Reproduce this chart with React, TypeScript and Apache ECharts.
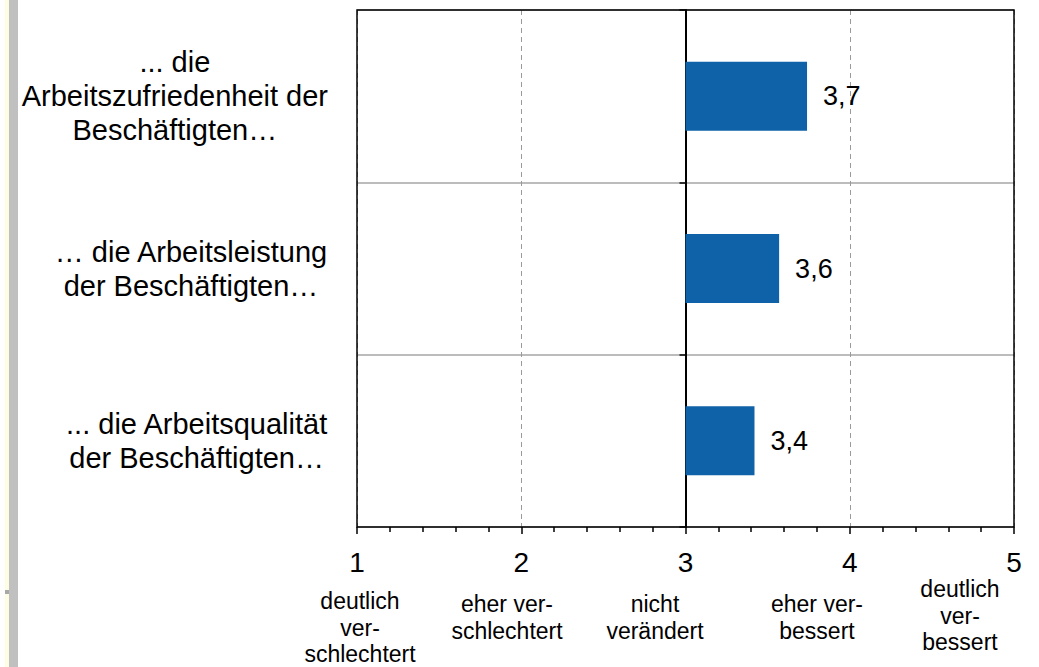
import React, { useEffect, useRef } from "react";
import * as echarts from "echarts";

// ---- data ----
const CATEGORIES = [
  "... die\nArbeitszufriedenheit der\nBeschäftigten…",
  "… die Arbeitsleistung\nder Beschäftigten…",
  "... die Arbeitsqualität\nder Beschäftigten…",
];
const VALUES = [3.74, 3.57, 3.42];
const SCALE_MIN = 1;
const SCALE_MAX = 5;
const NEUTRAL = 3;
const SCALE_LABELS = [
  "deutlich\nver-\nschlechtert",
  "eher ver-\nschlechtert",
  "nicht\nverändert",
  "eher ver-\nbessert",
  "deutlich\nver-\nbessert",
];

// ---- layout (styling only) ----
const SCALE_LABEL_POS: [number, number][] = [
  [360, 588],
  [507, 591],
  [655, 591],
  [817, 591],
  [960, 576],
];

const FONT = 'Arial, "Liberation Sans", sans-serif';

export default function App() {
  const ref = useRef<HTMLDivElement>(null);
  useEffect(() => {
    if (!ref.current) return;
    const chart = echarts.init(ref.current, null, { renderer: "svg" });
    const shifted = VALUES.map((v) => +(v - NEUTRAL).toFixed(4));
    chart.setOption({
      animation: false,
      backgroundColor: "#ffffff",
      textStyle: { fontFamily: FONT },
      grid: {
        left: 357,
        top: 10,
        right: 25,
        bottom: 140,
        show: true,
        borderColor: "#000",
        borderWidth: 1.5,
        z: 5,
      },
      xAxis: {
        type: "value",
        min: SCALE_MIN - NEUTRAL,
        max: SCALE_MAX - NEUTRAL,
        interval: 1,
        axisLine: { onZero: false, lineStyle: { color: "#000", width: 2 } },
        axisTick: { show: true, length: 7, lineStyle: { color: "#000", width: 1.5 } },
        minorTick: { show: true, splitNumber: 5, length: 5, lineStyle: { color: "#000", width: 1.5 } },
        axisLabel: {
          margin: 21,
          fontSize: 28,
          color: "#000",
          fontFamily: FONT,
          formatter: (v: number) => String(Math.round(v + NEUTRAL)),
        },
        splitLine: { show: true, lineStyle: { color: "#9a9a9a", type: [5, 4], width: 1 } },
        minorSplitLine: { show: false },
      },
      yAxis: [
        {
          type: "category",
          data: CATEGORIES,
          inverse: true,
          axisLine: { show: false, onZero: false },
          axisTick: { show: false },
          splitLine: { show: true, lineStyle: { color: "#a6a6a6", width: 1.5 } },
          axisLabel: {
            margin: 29,
            align: "right",
            fontFamily: FONT,
            formatter: (v: string) =>
              v
                .split("\n")
                .map((l) => `{c|${l}}`)
                .join("\n"),
            rich: {
              c: {
                align: "center",
                fontSize: 29,
                lineHeight: 34,
                color: "#000",
                fontFamily: FONT,
              },
            },
          },
        },
        {
          type: "category",
          data: CATEGORIES,
          inverse: true,
          position: "left",
          axisLine: { show: true, onZero: true, lineStyle: { color: "#000", width: 2 } },
          axisTick: { show: true, length: 6, lineStyle: { color: "#000", width: 1.5 } },
          axisLabel: { show: false },
          splitLine: { show: false },
        },
      ],
      series: [
        {
          type: "bar",
          yAxisIndex: 0,
          data: shifted,
          barWidth: "40%",
          itemStyle: { color: "#0F62A7" },
          label: {
            show: true,
            position: "right",
            distance: 16,
            fontSize: 27,
            color: "#000",
            fontFamily: FONT,
            formatter: (p: any) => VALUES[p.dataIndex].toFixed(1).replace(".", ","),
          },
          z: 3,
        },
      ],
      graphic: [
        { type: "rect", shape: { x: 5, y: 0, width: 4, height: 667 }, style: { fill: "#FFFCE4" }, silent: true },
        { type: "rect", shape: { x: 9, y: 0, width: 9, height: 667 }, style: { fill: "#C0C0C0" }, silent: true },
        { type: "rect", shape: { x: 5, y: 590, width: 4, height: 4 }, style: { fill: "#A8A8A8" }, silent: true },
        ...SCALE_LABELS.map((t, i) => ({
          type: "text",
          x: SCALE_LABEL_POS[i][0],
          y: SCALE_LABEL_POS[i][1],
          silent: true,
          style: {
            text: t,
            fontSize: 23,
            lineHeight: 26.5,
            fontFamily: FONT,
            fill: "#000",
            align: "center",
            verticalAlign: "top",
          },
        })),
      ],
    });
    return () => chart.dispose();
  }, []);
  return (
    <div
      ref={ref}
      style={{ position: "fixed", left: 0, top: 0, width: 1039, height: 667 }}
    />
  );
}
